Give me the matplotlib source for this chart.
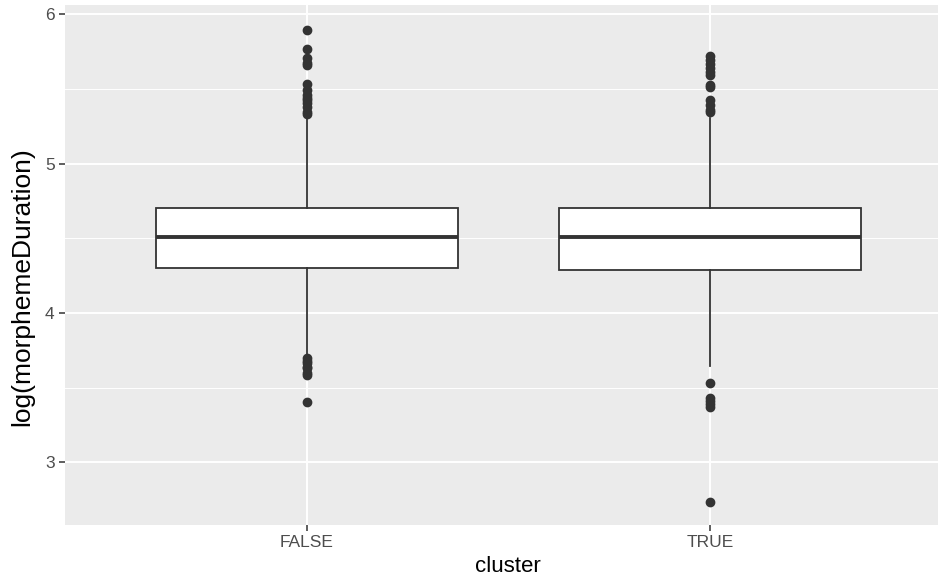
import matplotlib
matplotlib.use('Agg')
import matplotlib.pyplot as plt
from matplotlib.ticker import MultipleLocator

plt.rcParams['font.family'] = ['Liberation Sans', 'DejaVu Sans']

# log(morphemeDuration) summary per cluster group
groups = ["FALSE", "TRUE"]
q1 = [4.299, 4.285]
med = [4.506, 4.506]
q3 = [4.701, 4.701]
whislo = [3.716, 3.642]
whishi = [5.310, 5.305]
outliers = [
    [5.893, 5.766, 5.705, 5.675, 5.658, 5.531, 5.490, 5.457, 5.440, 5.424,
     5.404, 5.380, 5.345, 5.330, 3.696, 3.675, 3.662, 3.640, 3.629, 3.600,
     3.582, 3.401],
    [5.718, 5.692, 5.665, 5.640, 5.615, 5.591, 5.524, 5.510, 5.424, 5.390,
     5.360, 5.344, 3.528, 3.428, 3.410, 3.390, 3.368, 2.732],
]

stats = []
for i, g in enumerate(groups):
    stats.append(dict(label=g, q1=q1[i], med=med[i], q3=q3[i],
                      whislo=whislo[i], whishi=whishi[i], fliers=outliers[i]))

fig = plt.figure(figsize=(9.38, 5.81), dpi=100)
# panel runs past the right edge of the canvas
ax = fig.add_axes([0.0693, 0.0964, 0.9452, 0.8946])
ax.set_facecolor('#EBEBEB')
for spine in ax.spines.values():
    spine.set_visible(False)

ax.bxp(stats, positions=[1, 2], widths=0.75, patch_artist=True,
       showcaps=False, zorder=3,
       boxprops=dict(facecolor='white', edgecolor='#333333', linewidth=1.3),
       medianprops=dict(color='#333333', linewidth=2.8),
       whiskerprops=dict(color='#333333', linewidth=1.3),
       flierprops=dict(marker='o', markerfacecolor='#333333',
                       markeredgecolor='#333333', markersize=6))

ax.set_xlim(0.4, 2.6)
ax.set_ylim(2.58, 6.06)
ax.yaxis.set_major_locator(MultipleLocator(1))
ax.yaxis.set_minor_locator(MultipleLocator(0.5))
ax.set_xticks([1, 2])
ax.set_xticklabels(groups)

ax.grid(True, which='major', color='white', linewidth=1.4, zorder=0)
ax.grid(True, which='minor', axis='y', color='white', linewidth=0.7, zorder=0)
ax.set_axisbelow(True)

ax.tick_params(axis='both', which='major', length=4.5, width=1.1,
               color='#333333', labelcolor='#4D4D4D', labelsize=12.5, pad=3)
ax.tick_params(axis='y', which='minor', length=0)

ax.set_xlabel('cluster', fontsize=16, color='black', labelpad=4)
fig.text(22 / 938, 1 - 287 / 581, 'log(morphemeDuration)', rotation=90,
         fontsize=19, color='black', ha='center', va='center')

fig.savefig('out.png', dpi=100)
